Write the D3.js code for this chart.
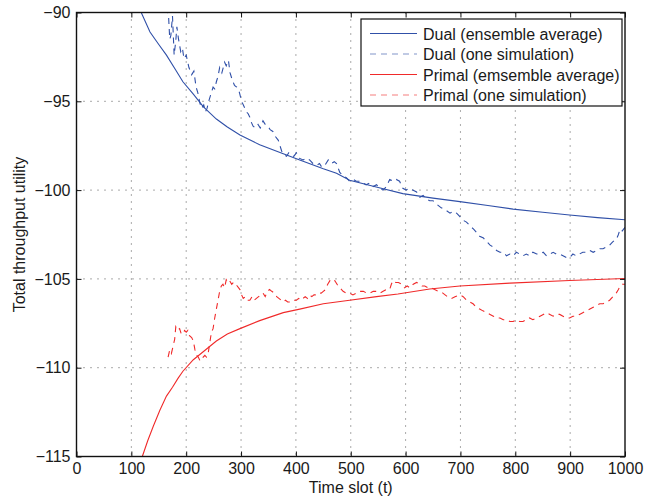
<!DOCTYPE html>
<html>
<head>
<meta charset="utf-8">
<script src="https://cdn.jsdelivr.net/npm/d3@7"></script>
<style>
  body { margin: 0; background: #fff; }
  text { font-family: "Liberation Sans", Arial, sans-serif; fill: #1a1a1a; }
</style>
</head>
<body>
<script>
// ---- data ----
var xTicks = [0, 100, 200, 300, 400, 500, 600, 700, 800, 900, 1000];
var yTicks = [-115, -110, -105, -100, -95, -90];

var seriesNames = ["Dual (ensemble average)", "Dual (one simulation)",
                   "Primal (emsemble average)", "Primal (one simulation)"];

var dualAvgT = [118,134,150,164,180,194,213,231,255,275,298,334,377,407,450,474,498,550,595,650,699,750,796,850,899,950,1000];
var dualAvgV = [-90,-91.1,-91.8,-92.4,-93.2,-93.9,-94.6,-95.3,-96.0,-96.45,-96.9,-97.45,-97.95,-98.3,-98.8,-99.05,-99.45,-99.85,-100.2,-100.45,-100.65,-100.87,-101.07,-101.25,-101.4,-101.55,-101.67];

var primalAvgT = [120,130,140,152,164,175,185,194,213,231,255,275,298,334,377,407,450,498,547,586,644,699,790,899,1000];
var primalAvgV = [-115,-114.1,-113.3,-112.4,-111.6,-111.1,-110.6,-110.2,-109.55,-109.1,-108.5,-108.1,-107.8,-107.35,-106.9,-106.7,-106.4,-106.2,-106.0,-105.85,-105.57,-105.4,-105.24,-105.09,-104.98];

var dualSimT = [165,168,170,172,175,178,181,183,186,190,193,196,200,205,210,214,218,221,225,228,232,235,238,241,245,249,252,255,258,261,265,270,273,277,280,284,288,292,297,301,304,307,310,313,316,319,322,326,331,335,340,344,349,353,358,363,368,371,374,378,383,387,392,396,401,406,413,419,425,431,438,443,447,453,459,465,470,474,480,486,492,498,505,510,516,522,528,535,541,547,553,559,565,571,577,583,589,595,601,607,613,620,626,632,638,644,650,657,665,672,681,687,693,699,705,711,717,724,730,735,742,748,754,760,766,772,778,784,790,796,802,808,814,820,826,832,839,845,851,857,863,869,875,881,887,893,899,905,911,917,923,930,936,942,948,954,960,966,972,978,984,988,991,995,1000];
var dualSimV = [-89.7,-90.3,-91.5,-91.3,-90.2,-92.4,-91.6,-90.8,-91.5,-92.2,-92.0,-92.6,-92.4,-93.1,-93.5,-93.3,-94.2,-94.5,-95.1,-95.4,-95.2,-95.6,-95.4,-95.0,-94.6,-94.2,-94.3,-93.9,-93.6,-93.1,-93.4,-92.8,-93.0,-92.7,-93.4,-93.8,-94.1,-94.2,-94.5,-95.0,-95.2,-95.4,-95.6,-95.7,-95.9,-96.2,-96.4,-96.5,-96.3,-96.5,-96.1,-96.3,-96.4,-96.6,-96.7,-97.0,-97.2,-97.5,-97.8,-98.0,-98.1,-97.9,-98.0,-98.1,-97.9,-98.2,-98.3,-98.2,-98.3,-98.5,-98.6,-98.5,-98.7,-98.6,-98.3,-98.5,-98.4,-98.5,-99.0,-99.2,-99.3,-99.5,-99.4,-99.5,-99.5,-99.6,-99.7,-99.6,-99.8,-99.7,-99.9,-100.0,-99.8,-99.4,-99.5,-99.4,-99.5,-99.9,-100.0,-99.9,-100.0,-100.1,-100.4,-100.3,-100.5,-100.6,-100.6,-100.8,-101.0,-101.1,-101.3,-101.2,-101.3,-101.5,-101.7,-101.8,-102.0,-102.2,-102.4,-102.6,-102.7,-102.9,-103.1,-103.2,-103.4,-103.5,-103.5,-103.7,-103.6,-103.7,-103.5,-103.6,-103.7,-103.6,-103.7,-103.5,-103.6,-103.6,-103.5,-103.7,-103.6,-103.5,-103.6,-103.6,-103.7,-103.8,-103.8,-103.6,-103.7,-103.6,-103.5,-103.5,-103.4,-103.5,-103.4,-103.3,-103.3,-103.2,-103.1,-102.9,-102.8,-102.5,-102.2,-102.3,-102.1];

var primalSimT = [167,170,173,176,179,181,184,188,191,194,197,200,203,206,210,213,216,219,222,225,228,231,234,237,240,243,246,249,252,255,258,261,264,267,270,273,276,279,283,286,289,293,298,301,304,308,312,316,320,324,328,332,336,340,344,348,352,356,361,365,369,373,377,381,385,389,393,397,401,405,409,413,417,421,425,429,433,438,442,446,450,454,458,462,466,471,475,480,486,492,498,504,510,516,523,529,535,541,547,553,559,565,571,574,577,582,587,593,598,603,608,614,620,626,630,635,641,647,653,660,668,676,684,690,699,705,711,717,723,729,735,741,748,754,760,766,772,778,784,790,796,802,808,814,820,826,832,839,845,851,857,863,869,875,881,887,893,899,905,911,917,923,930,936,942,948,954,960,966,972,978,984,988,991,995,1000];
var primalSimV = [-109.4,-109.0,-109.2,-108.8,-108.4,-107.7,-107.9,-107.8,-108.1,-108.1,-107.9,-108.0,-107.9,-108.2,-108.3,-108.5,-109.0,-109.3,-109.4,-109.6,-109.6,-109.4,-109.3,-109.4,-109.2,-108.6,-108.0,-107.8,-107.2,-106.7,-106.2,-105.7,-105.4,-105.3,-105.5,-105.05,-105.2,-105.1,-105.3,-105.2,-105.2,-105.4,-105.6,-105.9,-106.1,-106.0,-106.2,-106.2,-106.0,-106.2,-106.1,-106.0,-105.9,-105.8,-106.0,-105.7,-105.6,-105.7,-105.8,-106.0,-106.1,-106.2,-106.3,-106.2,-106.3,-106.3,-106.2,-106.2,-106.2,-106.1,-106.2,-106.1,-106.0,-106.1,-105.9,-106.0,-105.9,-105.9,-105.8,-105.8,-105.7,-105.6,-105.3,-105.1,-105.2,-105.1,-105.3,-105.5,-105.7,-105.8,-105.8,-105.9,-105.8,-105.7,-105.7,-105.8,-105.8,-105.7,-105.7,-105.8,-105.7,-105.6,-105.6,-105.3,-105.1,-105.2,-105.2,-105.3,-105.5,-105.4,-105.5,-105.3,-105.2,-105.3,-105.4,-105.4,-105.5,-105.5,-105.6,-105.7,-105.8,-106.0,-106.1,-106.0,-105.9,-106.0,-106.2,-106.3,-106.4,-106.6,-106.7,-106.8,-106.9,-107.0,-107.1,-107.2,-107.2,-107.3,-107.3,-107.4,-107.4,-107.3,-107.4,-107.4,-107.3,-107.2,-107.3,-107.2,-107.1,-107.0,-106.9,-107.0,-107.1,-107.0,-107.0,-107.1,-107.2,-107.2,-107.1,-107.1,-107.0,-106.9,-106.8,-106.7,-106.6,-106.5,-106.4,-106.4,-106.3,-106.2,-106.0,-105.8,-105.6,-105.4,-105.3,-105.3];

var blue = "#3050a8", red = "#f02a2a";

// ---- layout ----
var svgWidth = 656, svgHeight = 500;
var margin = {top: 12.5, right: 31, bottom: 43.5, left: 76.5};
var width = svgWidth - margin.left - margin.right;
var height = svgHeight - margin.top - margin.bottom;

var svg = d3.select("body").append("svg")
    .attr("width", svgWidth)
    .attr("height", svgHeight);

var g = svg.append("g")
    .attr("transform", "translate(" + margin.left + "," + margin.top + ")");

var x = d3.scaleLinear().domain([0, 1000]).range([0, width]);
var y = d3.scaleLinear().domain([-115, -90]).range([height, 0]);

svg.append("defs").append("clipPath").attr("id", "plotClip")
  .append("rect").attr("width", width).attr("height", height);

// grid (dotted)
g.append("g").selectAll("line")
  .data(xTicks.slice(1, -1))
  .enter().append("line")
  .attr("x1", function(d){ return x(d); })
  .attr("x2", function(d){ return x(d); })
  .attr("y1", 0).attr("y2", height)
  .attr("stroke", "#555").attr("stroke-width", 1)
  .attr("stroke-dasharray", "1,6");

g.append("g").selectAll("line")
  .data(yTicks.slice(1, -1))
  .enter().append("line")
  .attr("y1", function(d){ return y(d); })
  .attr("y2", function(d){ return y(d); })
  .attr("x1", 0).attr("x2", width)
  .attr("stroke", "#555").attr("stroke-width", 1)
  .attr("stroke-dasharray", "1,6");

// series
function zip(ts, vs){
  return ts.map(function(t, i){ return [t, vs[i]]; });
}
var line = d3.line()
  .x(function(d){ return x(d[0]); })
  .y(function(d){ return y(d[1]); });

var series = [
  {data: zip(dualAvgT, dualAvgV), color: blue, dash: null},
  {data: zip(dualSimT, dualSimV), color: blue, dash: "6,5"},
  {data: zip(primalAvgT, primalAvgV), color: red, dash: null},
  {data: zip(primalSimT, primalSimV), color: red, dash: "6,5"}
];

var plot = g.append("g").attr("clip-path", "url(#plotClip)");
plot.selectAll("path")
  .data(series)
  .enter().append("path")
  .attr("d", function(d){ return line(d.data); })
  .attr("fill", "none")
  .attr("stroke", function(d){ return d.color; })
  .attr("stroke-width", 1.1)
  .attr("stroke-dasharray", function(d){ return d.dash; });

// axes, ticks pointing inward
g.append("g")
  .attr("transform", "translate(0," + height + ")")
  .call(d3.axisBottom(x).tickValues(xTicks).tickSize(-5).tickPadding(6.5)
          .tickFormat(d3.format("d")));
g.append("g")
  .call(d3.axisLeft(y).tickValues(yTicks).tickSize(-5).tickPadding(6)
          .tickFormat(d3.format("d")));
g.append("g")
  .call(d3.axisTop(x).tickValues(xTicks).tickSize(-5).tickFormat(""));
g.append("g")
  .attr("transform", "translate(" + width + ",0)")
  .call(d3.axisRight(y).tickValues(yTicks).tickSize(-5).tickFormat(""));

g.selectAll(".domain").remove();
g.selectAll(".tick line").attr("stroke", "#111");
g.selectAll(".tick text")
  .attr("font-size", "16px")
  .attr("fill", "#1a1a1a")
  .style("font-family", "'Liberation Sans', Arial, sans-serif");

g.append("rect")
  .attr("width", width).attr("height", height)
  .attr("fill", "none").attr("stroke", "#111").attr("stroke-width", 1.4);

// axis labels
svg.append("text")
  .attr("x", margin.left + width / 2)
  .attr("y", 493)
  .attr("text-anchor", "middle")
  .attr("font-size", "16px")
  .text("Time slot (t)");

svg.append("text")
  .attr("transform", "translate(25," + (margin.top + height / 2) + ") rotate(-90)")
  .attr("text-anchor", "middle")
  .attr("font-size", "16px")
  .text("Total throughput utility");

// legend
var legend = svg.append("g").attr("transform", "translate(361,19)");
legend.append("rect")
  .attr("width", 261).attr("height", 87)
  .attr("fill", "#fff").attr("stroke", "#111").attr("stroke-width", 1.2);

var rowY = [14.5, 35, 55.5, 76];
var rows = legend.selectAll(".row")
  .data(series)
  .enter().append("g")
  .attr("class", "row")
  .attr("transform", function(d, i){ return "translate(0," + rowY[i] + ")"; });

rows.append("line")
  .attr("x1", 9).attr("x2", 56)
  .attr("stroke", function(d){ return d.color; })
  .attr("stroke-width", 1.1)
  .attr("stroke-opacity", function(d){ return d.dash ? 0.6 : 1; })
  .attr("stroke-dasharray", function(d){ return d.dash; });

rows.append("text")
  .attr("x", 62)
  .attr("y", 6)
  .attr("font-size", "16px")
  .text(function(d, i){ return seriesNames[i]; });
</script>
</body>
</html>
